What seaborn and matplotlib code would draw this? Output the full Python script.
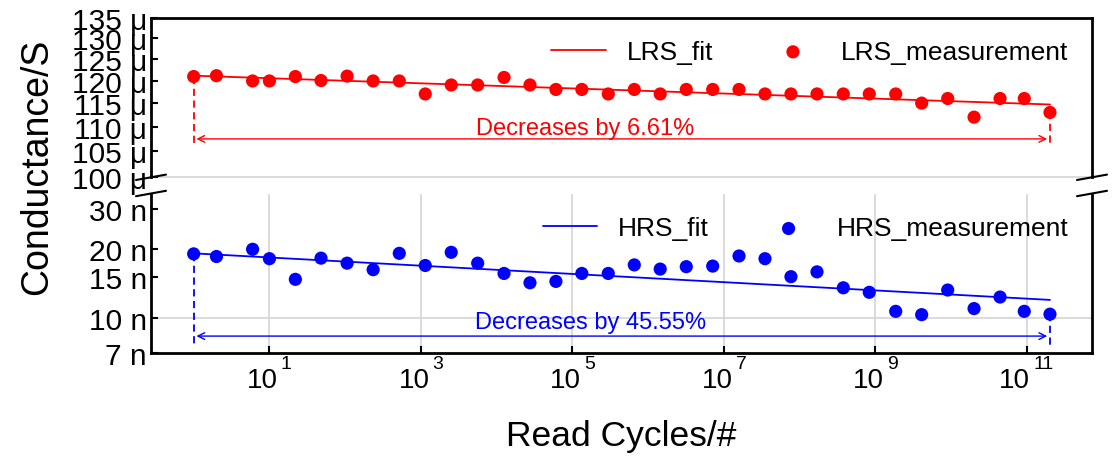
import numpy as np
import pandas as pd
import matplotlib
matplotlib.use("Agg")
import matplotlib.pyplot as plt
from matplotlib.ticker import NullLocator
from matplotlib.transforms import ScaledTranslation
import seaborn as sns

# ---------------- data ----------------
cycles = [1, 2, 6, 10, 22, 48, 106, 234, 518, 1.14e3, 2.51e3, 5.61e3, 1.25e4, 2.75e4,
          6.05e4, 1.33e5, 2.97e5, 6.55e5, 1.44e6, 3.18e6, 7.10e6, 1.58e7, 3.48e7,
          7.66e7, 1.69e8, 3.76e8, 8.28e8, 1.85e9, 4.07e9, 8.98e9, 2.0e10, 4.41e10,
          9.2e10, 2.01e11]
lrs_uS = [120.9, 121.1, 119.9, 119.9, 120.9, 120.0, 121.0, 119.9, 119.9, 117.0, 119.0,
          119.0, 120.7, 119.0, 118.0, 118.0, 117.0, 118.0, 117.0, 118.0, 118.0, 118.0,
          117.0, 117.0, 117.0, 117.0, 117.0, 117.0, 115.0, 116.0, 112.0, 116.0, 116.0, 113.0]
hrs_nS = [19.0, 18.5, 19.9, 18.1, 14.7, 18.2, 17.3, 16.2, 19.1, 16.9, 19.3, 17.3, 15.6,
          14.2, 14.4, 15.6, 15.6, 17.0, 16.3, 16.7, 16.8, 18.6, 18.1, 15.1, 15.85, 13.5,
          12.9, 10.65, 10.3, 13.2, 10.95, 12.3, 10.65, 10.35]
fit_x = [1, 2.01e11]
lrs_fit = [121.1, 114.7]
hrs_fit = [19.1, 11.95]

lrs_ticks = [100, 105, 110, 115, 120, 125, 130, 135]
lrs_ticklabels = ["100 μ", "105 μ", "110 μ", "115 μ", "120 μ", "125 μ", "130 μ", "135 μ"]
hrs_ticks = [7, 10, 15, 20, 30]
hrs_ticklabels = ["7 n", "10 n", "15 n", "20 n", "30 n"]
x_ticks = [1e1, 1e3, 1e5, 1e7, 1e9, 1e11]
x_tick_base = "10"
x_tick_exps = ["1", "3", "5", "7", "9", "11"]
lrs_text = "Decreases by 6.61%"
hrs_text = "Decreases by 45.55%"

df = pd.DataFrame({"cycles": cycles, "lrs": lrs_uS, "hrs": hrs_nS})
fit = pd.DataFrame({"cycles": fit_x, "lrs": lrs_fit, "hrs": hrs_fit})

# ---------------- style ----------------
sns.set_theme(style="ticks")
plt.rcParams["font.family"] = ["Liberation Sans", "DejaVu Sans"]
for k in ("text.color", "axes.labelcolor", "xtick.color", "ytick.color", "axes.edgecolor"):
    plt.rcParams[k] = "black"

W, H = 1118, 460
DPI = 100
fig = plt.figure(figsize=(W / DPI, H / DPI), dpi=DPI)
fig.patch.set_facecolor("white")

L, R = 151, 1092
ax1 = fig.add_axes([L / W, 1 - 178.3 / H, (R - L) / W, (178.3 - 19) / H])
ax2 = fig.add_axes([L / W, 1 - 354 / H, (R - L) / W, (354 - 194.5) / H], sharex=ax1)

RED, BLUE = "#ff0000", "#0000ff"
ytick_fs = 21.5
xtick_fs = 20
exp_fs = 14
leg_fs = 19
ann_fs = 17
ms = 90

for ax in (ax1, ax2):
    ax.set_xscale("log")
    ax.set_yscale("log")
    ax.set_facecolor("white")
    for s in ax.spines.values():
        s.set_linewidth(2)
        s.set_color("black")

# ---- top (LRS) ----
sns.lineplot(data=fit, x="cycles", y="lrs", ax=ax1, color=RED, lw=1.3, label="LRS_fit", zorder=3)
sns.scatterplot(data=df, x="cycles", y="lrs", ax=ax1, color=RED, s=ms, edgecolor="none",
                label="LRS_measurement", zorder=4)
# ---- bottom (HRS) ----
sns.lineplot(data=fit, x="cycles", y="hrs", ax=ax2, color=BLUE, lw=1.3, label="HRS_fit", zorder=3)
sns.scatterplot(data=df, x="cycles", y="hrs", ax=ax2, color=BLUE, s=ms, edgecolor="none",
                label="HRS_measurement", zorder=4)

ax1.set_xlim(0.2735, 7.21e11)
ax1.set_ylim(100, 135)
ax2.set_ylim(7, 34.9)

ax1.set_yticks(lrs_ticks, labels=lrs_ticklabels)
ax2.set_yticks(hrs_ticks, labels=hrs_ticklabels)
ax2.set_xticks(x_ticks, labels=[x_tick_base] * len(x_ticks))
for ax in (ax1, ax2):
    ax.yaxis.set_minor_locator(NullLocator())
    ax.xaxis.set_minor_locator(NullLocator())
    ax.set_xlabel("")
    ax.set_ylabel("")
    ax.grid(False)
    ax.tick_params(axis="y", which="major", direction="in", length=5, width=1.5,
                   labelsize=ytick_fs, pad=3, left=True, right=False)
ax1.tick_params(axis="x", which="both", bottom=False, top=False, labelbottom=False)
ax2.tick_params(axis="x", which="major", direction="in", length=5, width=1.5,
                labelsize=xtick_fs, pad=10, top=False)

# x tick labels: "10" with a raised exponent (combined label centred on the tick)
px = 72.0 / DPI  # points per pixel
w10 = 1.112 * xtick_fs / px
for lab, t, e in zip(ax2.get_xticklabels(), x_ticks, x_tick_exps):
    we = len(e) * 0.556 * exp_fs / px
    shift = -(3 + we) / 2
    lab.set_transform(lab.get_transform() + ScaledTranslation(shift / DPI, 0, fig.dpi_scale_trans))
    ax2.annotate(e, xy=(t, 0), xycoords=("data", "axes fraction"),
                 xytext=(shift + w10 / 2 + 3, -15), textcoords="offset pixels",
                 ha="left", va="baseline", fontsize=exp_fs, annotation_clip=False)

ax1.spines["bottom"].set_visible(False)
ax2.spines["top"].set_visible(False)

# grid lines
GRID = "#d4d4d4"
ax1.axhline(100, color=GRID, lw=1.2, zorder=0, clip_on=False)
ax2.axhline(10, color=GRID, lw=1.2, zorder=0)
for xt in x_ticks:
    ax2.axvline(xt, color=GRID, lw=1.2, zorder=0)

# break marks
dx1, dy1 = 15 / (R - L), 2.7 / (178.3 - 19)
dy2 = 2.7 / (354 - 194.5)
kw = dict(color="black", lw=1.5, clip_on=False)
for xx in (0, 1):
    ax1.plot([xx - dx1, xx + dx1], [-dy1, dy1], transform=ax1.transAxes, **kw)
    ax2.plot([xx - dx1, xx + dx1], [1 - dy2, 1 + dy2], transform=ax2.transAxes, **kw)

# annotations: dashed drops, double arrows, texts
dash = (0, (4, 2.5))
ax1.plot([cycles[0], cycles[0]], [lrs_uS[0], 106.6], ls=dash, color=RED, lw=1.3, zorder=2)
ax1.plot([cycles[-1], cycles[-1]], [lrs_uS[-1], 106.6], ls=dash, color=RED, lw=1.3, zorder=2)
ax1.annotate("", xy=(cycles[-1], 107.5), xytext=(cycles[0], 107.5),
             arrowprops=dict(arrowstyle="<->", color=RED, lw=1.0, shrinkA=2, shrinkB=2))
ax1.text(10 ** 5.17, 109.7, lrs_text, color=RED, fontsize=ann_fs, ha="center", va="center")

ax2.plot([cycles[0], cycles[0]], [hrs_nS[0], 7.5], ls=dash, color=BLUE, lw=1.3, zorder=2)
ax2.plot([cycles[-1], cycles[-1]], [hrs_nS[-1], 7.5], ls=dash, color=BLUE, lw=1.3, zorder=2)
ax2.annotate("", xy=(cycles[-1], 8.3), xytext=(cycles[0], 8.3),
             arrowprops=dict(arrowstyle="<->", color=BLUE, lw=1.0, shrinkA=2, shrinkB=2))
ax2.text(10 ** 5.24, 9.54, hrs_text, color=BLUE, fontsize=ann_fs, ha="center", va="center")

# legends
for ax, yc in ((ax1, 0.788), (ax2, 0.781)):
    h, l = ax.get_legend_handles_labels()
    ax.legend(h, l, ncol=2, loc="center right", bbox_to_anchor=(0.975, yc),
              frameon=False, fontsize=leg_fs, borderpad=0, borderaxespad=0,
              handlelength=2.05, handletextpad=0.8, columnspacing=2.0, markerscale=1.0)

# axis labels
fig.text(37 / W, 1 - 167 / H, "Conductance/S", rotation=90, ha="center", va="center", fontsize=27)
fig.text((L + R) / 2 / W, 1 - 437 / H, "Read Cycles/#", ha="center", va="center", fontsize=25.5)

fig.savefig("out.png", dpi=DPI, facecolor="white")
